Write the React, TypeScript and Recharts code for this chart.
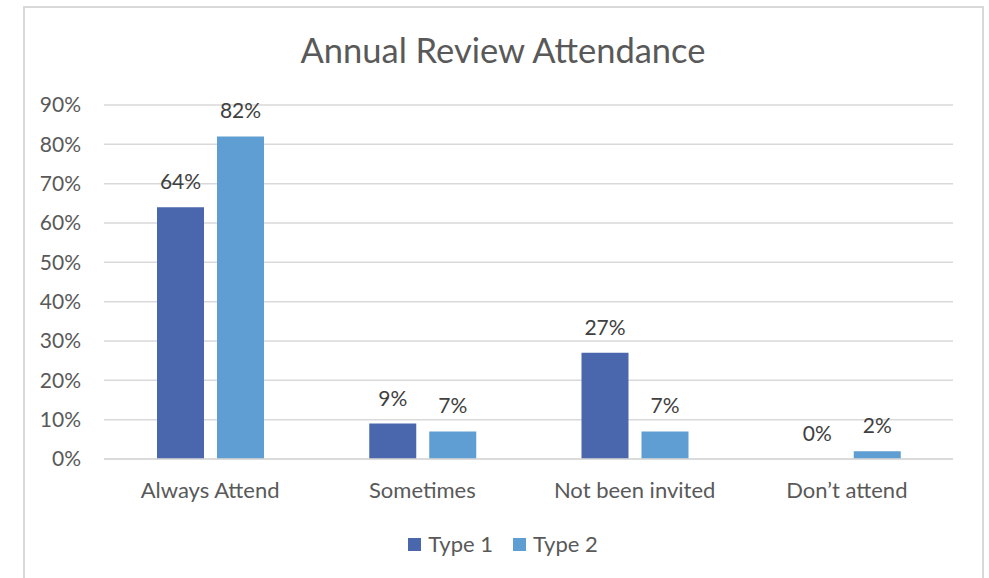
import { Bar, BarChart, CartesianGrid, Cell, LabelList, Legend, XAxis, YAxis } from "recharts";

const categories = ["Always Attend", "Sometimes", "Not been invited", "Don\u2019t attend"];
const type1 = [64, 9, 27, 0];
const type2 = [82, 7, 7, 2];
const yTicks = [0, 10, 20, 30, 40, 50, 60, 70, 80, 90];

const data = categories.map((name, i) => ({ name, type1: type1[i], type2: type2[i] }));

const FONT = "Lato, 'Open Sans', sans-serif";
const TEXT = "#595959";
const GRID = "#d9d9d9";
const C1 = "#4a66ac";
const C2 = "#5f9ed2";

const LegendContent = ({ payload }: any) => (
  <div style={{ display: "flex", justifyContent: "center", fontFamily: FONT, fontSize: 22, color: TEXT, lineHeight: "26px" }}>
    {(payload || []).map((p: any, i: number) => (
      <div key={i} style={{ display: "flex", alignItems: "center", marginRight: i === 0 ? 20 : 0 }}>
        <span style={{ width: 13, height: 13, background: p.color, display: "inline-block", marginRight: 7 }} />
        <span>{p.value}</span>
      </div>
    ))}
  </div>
);

// value above each bar; zero bars get a 1px invisible stub so their label still shows
const TopLabel = (props: any) => {
  const { x, y, width, height, value } = props;
  const top = value === 0 ? Number(y) + Number(height) : Number(y);
  return (
    <text
      x={Number(x) + Number(width) / 2}
      y={top - 18}
      textAnchor="middle"
      fill="#404040"
      fontSize={21}
      fontFamily={FONT}
    >
      {`${value}%`}
    </text>
  );
};

export default function App() {
  return (
    <div style={{ position: "fixed", left: 0, top: 0, width: 989, height: 578, overflow: "hidden", background: "#fff" }}>
      <div
        style={{
          position: "absolute",
          left: 23,
          top: 6,
          width: 957,
          height: 620,
          border: `2px solid ${GRID}`,
        }}
      />
      <div
        style={{
          position: "absolute",
          left: 0,
          width: 1006,
          top: 28,
          textAlign: "center",
          fontFamily: FONT,
          fontSize: 34.5,
          color: TEXT,
          lineHeight: "44px",
        }}
      >
        Annual Review Attendance
      </div>
      <div style={{ position: "absolute", left: 0, top: 0 }}>
        <BarChart width={989} height={578} data={data} margin={{ top: 105, right: 36, left: 0, bottom: 63 }} barGap={13}>
          <CartesianGrid vertical={false} stroke={GRID} strokeWidth={1.5} />
          <XAxis
            dataKey="name"
            tickLine={false}
            axisLine={{ stroke: GRID, strokeWidth: 1.5 }}
            tickSize={0}
            tickMargin={23}
            tick={{ fill: TEXT, fontSize: 22, fontFamily: FONT }}
            interval={0}
          />
          <YAxis
            width={104}
            domain={[0, 90]}
            ticks={yTicks}
            tickFormatter={(v: number) => `${v}%`}
            axisLine={false}
            tickLine={false}
            tickSize={0}
            tickMargin={23}
            tick={{ fill: TEXT, fontSize: 21, fontFamily: FONT }}
          />
          <Legend
            content={<LegendContent />}
            wrapperStyle={{ position: "absolute", top: 531, left: 0, width: 1006 }}
          />
          <Bar dataKey="type1" name="Type 1" fill={C1} barSize={47} minPointSize={1} isAnimationActive={false}>
            {type1.map((v, i) => (
              <Cell key={i} fill={v === 0 ? "transparent" : C1} />
            ))}
            <LabelList dataKey="type1" content={<TopLabel />} />
          </Bar>
          <Bar dataKey="type2" name="Type 2" fill={C2} barSize={47} minPointSize={1} isAnimationActive={false}>
            {type2.map((v, i) => (
              <Cell key={i} fill={v === 0 ? "transparent" : C2} />
            ))}
            <LabelList dataKey="type2" content={<TopLabel />} />
          </Bar>
        </BarChart>
      </div>
    </div>
  );
}
